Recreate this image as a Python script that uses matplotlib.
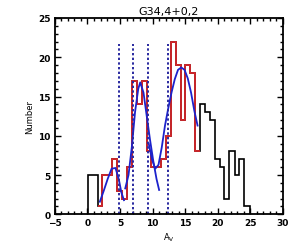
import matplotlib
matplotlib.use('Agg')
import matplotlib.pyplot as plt
from matplotlib.ticker import MultipleLocator

# full histogram (black)
all_edges = [0.1, 0.85, 1.6, 2.3, 3.05, 3.8, 4.6, 5.3, 6.0, 6.77, 7.54, 8.3,
             9.07, 9.8, 10.55, 11.3, 12.05, 12.8, 13.6, 14.3, 15.0, 15.75,
             16.5, 17.3, 18.0, 18.8, 19.6, 20.4, 21.0, 21.8, 22.6, 23.3,
             24.1, 24.9]
all_counts = [5, 5, 1, 5, 5, 7, 3, 2, 6, 17, 14, 17, 8, 6, 6, 7, 10, 22, 19,
              12, 19, 18, 8, 14, 13, 12, 7, 6, 2, 8, 5, 7, 1]

# selected range (red)
sel_edges = all_edges[2:24]
sel_counts = all_counts[2:23]

# fitted curves (blue)
fit1_x = [1.9, 2.5, 3.1, 3.7, 4.3, 4.8, 5.2, 5.6]
fit1_y = [1.6, 3.0, 4.5, 5.8, 5.9, 4.5, 2.8, 1.8]
fit2_x = [5.8, 6.3, 6.8, 7.3, 7.8, 8.1, 8.6, 9.1, 9.6, 10.1, 10.6, 11.0]
fit2_y = [3.3, 5.0, 8.5, 13.0, 16.0, 16.8, 15.5, 12.5, 9.5, 6.8, 4.5, 3.1]
fit3_x = [9.4, 9.9, 10.4, 10.9, 11.4, 11.9, 12.4, 12.9, 13.4, 13.9, 14.4,
          14.9, 15.4, 15.9, 16.4, 16.9]
fit3_y = [9.0, 7.0, 5.8, 6.3, 8.5, 11.3, 13.5, 15.5, 17.2, 18.4, 18.7, 18.4,
          17.3, 15.5, 13.2, 11.3]

# dividing lines
cuts = [4.85, 6.95, 9.35, 12.3]
cut_top = 21.7

fig = plt.figure(figsize=(3.0, 2.53), dpi=100)
ax = fig.add_axes([0.183, 0.149, 0.76, 0.776])

ax.stairs(all_counts, all_edges, color='black', lw=1.2)
ax.stairs(sel_counts, sel_edges, color='#e4262a', lw=1.2, baseline=None)
for fx, fy in [(fit1_x, fit1_y), (fit2_x, fit2_y), (fit3_x, fit3_y)]:
	ax.plot(fx, fy, color='#1c22cc', lw=1.3)
for c in cuts:
	ax.plot([c, c], [0, cut_top], color='#2a2aa0', lw=1.4,
			linestyle=(0, (1.2, 1.2)))

ax.set_xlim(-5, 30)
ax.set_ylim(0, 25)
ax.xaxis.set_major_locator(MultipleLocator(5))
ax.xaxis.set_minor_locator(MultipleLocator(1))
ax.yaxis.set_major_locator(MultipleLocator(5))
ax.yaxis.set_minor_locator(MultipleLocator(1))
ax.tick_params(which='both', direction='in', top=True, right=True,
			   width=1.0, labelsize=6.5, pad=3)
ax.tick_params(which='major', length=4.5)
ax.tick_params(which='minor', length=2.2)
for lab in ax.get_xticklabels() + ax.get_yticklabels():
	lab.set_fontweight('bold')
for sp in ax.spines.values():
	sp.set_linewidth(1.3)

ax.set_title('G34,4+0,2', fontsize=8, pad=3)
ax.set_xlabel('A$_\\mathregular{V}$', fontsize=6, labelpad=2)
ax.set_ylabel('Number', fontsize=6, labelpad=3)

fig.savefig('out.png', dpi=100)
